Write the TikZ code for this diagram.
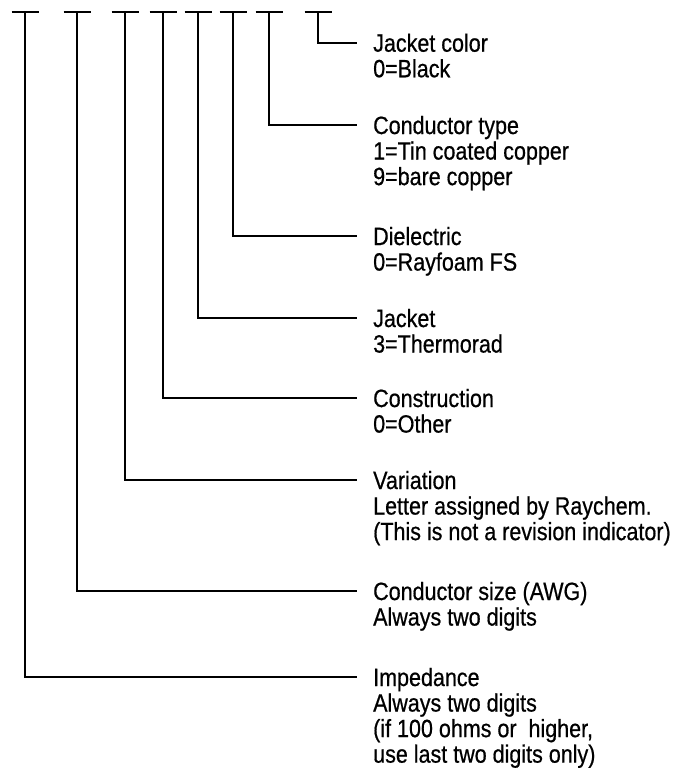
\documentclass[tikz,border=0pt]{standalone}
\usepackage{fontspec}
\setmainfont[FakeStretch=0.86,FakeBold=0.6]{Liberation Sans}
\newcommand\labfont{\fontsize{25pt}{24.8pt}\selectfont}
\tikzset{
  lab/.style={anchor=base west, inner sep=0pt, font=\labfont},
  wire/.style={line width=1.7pt, line join=miter, line cap=butt},
  tbar/.style={line width=1.7pt}
}
\begin{document}
\begin{tikzpicture}[x=1pt,y=-1pt]
\useasboundingbox (0,0) rectangle (680,774);
% top bars
\foreach \n/\x in {1/25,2/77,3/125,4/163,5/198,6/233,7/269,8/318}{
  \coordinate (t\n) at (\x,12);
  \draw[tbar] ([xshift=-13.5pt]t\n) -- ([xshift=13.5pt]t\n);
}
% line ends
\foreach \n/\y in {1/677,2/591,3/480,4/398,5/318,6/236,7/125,8/42.7}{
  \coordinate (e\n) at (357,\y);
  \draw[wire] (t\n) |- (e\n);
}
\node[lab] (l8) at (373,51.7) {\begin{tabular}[t]{@{}l@{}}Jacket color\\0=Black\end{tabular}};
\node[lab] (l7) at (373,134) {\begin{tabular}[t]{@{}l@{}}Conductor type\\1=Tin coated copper\\9=bare copper\end{tabular}};
\node[lab] (l6) at (373,245) {\begin{tabular}[t]{@{}l@{}}Dielectric\\0=Rayfoam FS\end{tabular}};
\node[lab] (l5) at (373,327) {\begin{tabular}[t]{@{}l@{}}Jacket\\3=Thermorad\end{tabular}};
\node[lab] (l4) at (373,407) {\begin{tabular}[t]{@{}l@{}}Construction\\0=Other\end{tabular}};
\node[lab] (l3) at (373,489) {\begin{tabular}[t]{@{}l@{}}Variation\\Letter assigned by Raychem.\\(This is not a revision indicator)\end{tabular}};
\node[lab] (l2) at (373,600) {\begin{tabular}[t]{@{}l@{}}Conductor size (AWG)\\Always two digits\end{tabular}};
\node[lab] (l1) at (373,686) {\begin{tabular}[t]{@{}l@{}}Impedance\\Always two digits\\(if 100 ohms or\ \ higher,\\use last two digits only)\end{tabular}};
\end{tikzpicture}
\end{document}
